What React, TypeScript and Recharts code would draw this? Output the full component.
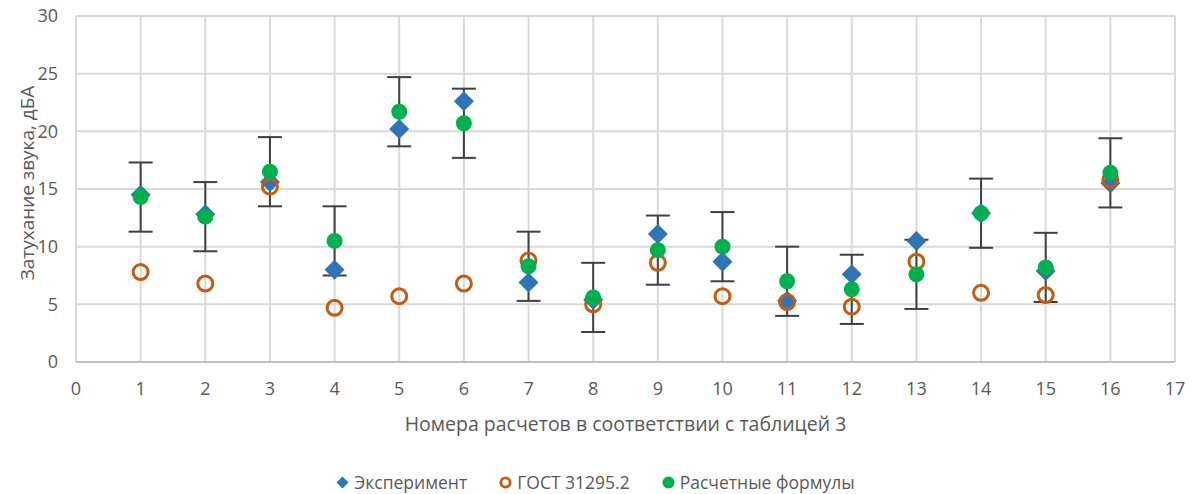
import {
  CartesianGrid,
  ErrorBar,
  Legend,
  Scatter,
  ScatterChart,
  XAxis,
  YAxis,
} from 'recharts'

// номера расчетов (таблица 3)
const CASES = [1, 2, 3, 4, 5, 6, 7, 8, 9, 10, 11, 12, 13, 14, 15, 16]

const EXPERIMENT = [14.5, 12.8, 15.6, 8.0, 20.2, 22.6, 6.9, 5.4, 11.1, 8.7, 5.3, 7.6, 10.5, 12.9, 7.9, 15.5]
const GOST = [7.8, 6.8, 15.2, 4.7, 5.7, 6.8, 8.8, 5.0, 8.6, 5.7, 5.2, 4.8, 8.7, 6.0, 5.8, 15.8]
const FORMULAS = [14.3, 12.6, 16.5, 10.5, 21.7, 20.7, 8.3, 5.6, 9.7, 10.0, 7.0, 6.3, 7.6, 12.9, 8.2, 16.4]
const FORMULAS_ERR = [3, 3, 3, 3, 3, 3, 3, 3, 3, 3, 3, 3, 3, 3, 3, 3]

const X_TICKS = [0, 1, 2, 3, 4, 5, 6, 7, 8, 9, 10, 11, 12, 13, 14, 15, 16, 17]
const Y_TICKS = [0, 5, 10, 15, 20, 25, 30]

const FONT = '"Open Sans", "Noto Sans", sans-serif'
const TEXT = '#595959'

const BLUE = '#2e75b6'
const ORANGE = '#c55a11'
const GREEN = '#00b050'

const SERIES = [
  { name: 'Эксперимент', color: BLUE, kind: 'diamond' },
  { name: 'ГОСТ 31295.2', color: ORANGE, kind: 'ring' },
  { name: 'Расчетные формулы', color: GREEN, kind: 'dot' },
]

const expData = CASES.map((x, i) => ({ x, y: EXPERIMENT[i] }))
const gostData = CASES.map((x, i) => ({ x, y: GOST[i] }))
const formulaData = CASES.map((x, i) => ({ x, y: FORMULAS[i], err: FORMULAS_ERR[i] }))

function Diamond(props: any) {
  const { cx, cy } = props
  const r = 10
  return (
    <polygon
      points={`${cx},${cy - r} ${cx + r},${cy} ${cx},${cy + r} ${cx - r},${cy}`}
      fill={BLUE}
    />
  )
}

function Ring(props: any) {
  const { cx, cy } = props
  return <circle cx={cx} cy={cy} r={7.5} fill="none" stroke={ORANGE} strokeWidth={3} />
}

function Dot(props: any) {
  const { cx, cy } = props
  return <circle cx={cx} cy={cy} r={8} fill={GREEN} />
}

function LegendIcon({ kind, color }: { kind: string; color: string }) {
  return (
    <svg width={13} height={13} style={{ marginRight: 5 }}>
      {kind === 'diamond' && <polygon points="6.5,0.5 12.5,6.5 6.5,12.5 0.5,6.5" fill={color} />}
      {kind === 'ring' && <circle cx={6.5} cy={6.5} r={4.6} fill="none" stroke={color} strokeWidth={2.8} />}
      {kind === 'dot' && <circle cx={6.5} cy={6.5} r={6} fill={color} />}
    </svg>
  )
}

function renderLegend() {
  return (
    <div
      style={{
        display: 'flex',
        justifyContent: 'center',
        alignItems: 'center',
        height: 24,
        fontFamily: FONT,
        fontSize: 17.5,
        color: TEXT,
        gap: 32,
        paddingLeft: 8,
      }}
    >
      {SERIES.map((s) => (
        <div key={s.name} style={{ display: 'flex', alignItems: 'center' }}>
          <LegendIcon kind={s.kind} color={s.color} />
          <span>{s.name}</span>
        </div>
      ))}
    </div>
  )
}

export default function App() {
  return (
    <div style={{ marginTop: -4 }}>
      <ScatterChart
        width={1179}
        height={490}
        margin={{ top: 12, right: 12, bottom: 0, left: 0 }}
        style={{ fontFamily: FONT }}
      >
        <CartesianGrid stroke="#d9d9d9" strokeWidth={2} />
        <XAxis
          type="number"
          dataKey="x"
          domain={[0, 17]}
          ticks={X_TICKS}
          interval={0}
          height={108}
          tickLine={false}
          axisLine={{ stroke: '#bfbfbf', strokeWidth: 2 }}
          tickSize={0}
          tickMargin={20}
          tick={{ fill: TEXT, fontSize: 18 }}
          label={{
            content: ({ viewBox }: any) => (
              <text
                x={viewBox.x + viewBox.width / 2}
                y={viewBox.y + 69}
                textAnchor="middle"
                fill={TEXT}
                fontSize={19.5}
                fontFamily={FONT}
              >
                Номера расчетов в соответствии с таблицей 3
              </text>
            ),
          }}
        />
        <YAxis
          type="number"
          dataKey="y"
          domain={[0, 30]}
          ticks={Y_TICKS}
          width={68}
          axisLine={false}
          tickLine={false}
          tickSize={0}
          tickMargin={18}
          tick={{ fill: TEXT, fontSize: 18 }}
          label={{
            content: ({ viewBox }: any) => {
              const x = viewBox.x + 19
              const y = viewBox.y + viewBox.height / 2 - 6
              return (
                <text
                  x={x}
                  y={y}
                  transform={`rotate(-90 ${x} ${y})`}
                  textAnchor="middle"
                  dominantBaseline="central"
                  fill={TEXT}
                  fontSize={19}
                  fontFamily={FONT}
                >
                  Затухание звука, дБА
                </text>
              )
            },
          }}
        />
        <Legend verticalAlign="bottom" height={24} content={renderLegend} />
        <Scatter name="Эксперимент" data={expData} shape={Diamond} isAnimationActive={false} />
        <Scatter name="ГОСТ 31295.2" data={gostData} shape={Ring} isAnimationActive={false} />
        <Scatter name="Расчетные формулы" data={formulaData} shape={Dot} isAnimationActive={false}>
          <ErrorBar dataKey="err" direction="y" width={12} stroke="#404040" strokeWidth={2} />
        </Scatter>
      </ScatterChart>
    </div>
  )
}
